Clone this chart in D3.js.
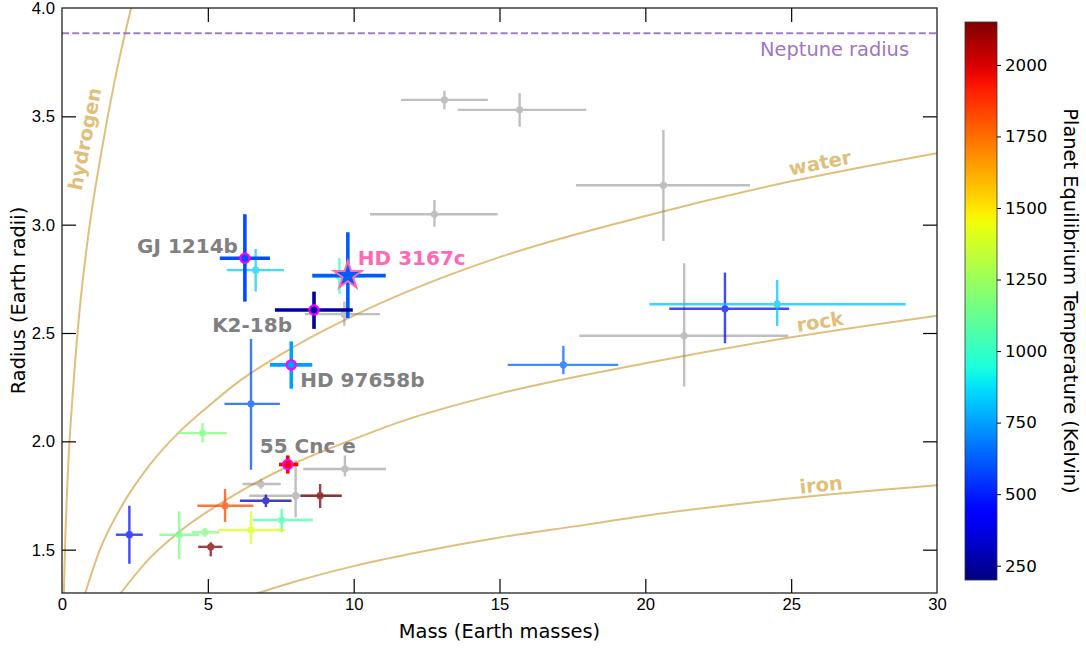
<!DOCTYPE html>
<html><head><meta charset="utf-8">
<script src="https://cdn.jsdelivr.net/npm/d3@7"></script>
<style>body{margin:0;background:#fff}svg{display:block;font-family:"DejaVu Sans",sans-serif}</style>
</head><body><svg id="c" width="1086" height="649"></svg>
<script>
// ---------------- data ----------------
const xTicks = [0, 5, 10, 15, 20, 25, 30];
const yTicks = [1.5, 2.0, 2.5, 3.0, 3.5, 4.0];
const cbTicks = [250, 500, 750, 1000, 1250, 1500, 1750, 2000];
const tempDomain = [200, 2150];
const neptuneRadius = 3.883;

// composition curves (mass, radius)
const hydrogenMass = [0.06, 0.1, 0.2, 0.38, 0.6, 0.9, 1.37, 1.8, 2.37, 2.5];
const hydrogenRadius = [1.28, 1.49, 1.85, 2.24, 2.60, 2.95, 3.35, 3.66, 4.0, 4.07];
const waterMass = [0.75, 1.3, 2, 3, 4, 5, 6, 8, 10, 12, 15, 20, 25, 30];
const waterRadius = [1.28, 1.50, 1.69, 1.89, 2.04, 2.16, 2.27, 2.44, 2.58, 2.70, 2.85, 3.04, 3.20, 3.33];
const rockMass = [1.9, 3, 4, 6, 8, 10, 11.59, 15, 20, 25, 30];
const rockRadius = [1.28, 1.46, 1.58, 1.76, 1.90, 2.01, 2.09, 2.22, 2.36, 2.48, 2.58];
const ironMass = [6.5, 8, 10, 12, 15, 17.76, 20, 25, 30];
const ironRadius = [1.29, 1.353, 1.424, 1.482, 1.556, 1.611, 1.657, 1.737, 1.797];

// highlighted planets
const hlNames = ["GJ 1214b", "HD 3167c", "K2-18b", "HD 97658b", "55 Cnc e"];
const hlMass = [6.27, 9.80, 8.64, 7.86, 7.74];
const hlMassLo = [5.41, 8.58, 7.30, 7.13, 7.44];
const hlMassHi = [7.13, 11.10, 9.97, 8.58, 8.10];
const hlRadius = [2.845, 2.765, 2.606, 2.353, 1.893];
const hlRadiusLo = [2.645, 2.569, 2.519, 2.243, 1.851];
const hlRadiusHi = [3.048, 2.965, 2.691, 2.461, 1.935];
const hlTeq = [590, 620, 255, 750, 1960];

// other planets (null temperature = grey)
const oMass = [13.11, 15.69, 20.62, 12.77, 9.68, 21.33, 9.70, 6.82, 8.01,
  8.85, 6.99, 5.59, 7.53, 6.48, 4.90, 4.02, 5.10, 2.31, 4.82, 6.48, 6.64, 9.51, 17.19, 22.73, 24.52];
const oMassLo = [11.62, 13.57, 17.62, 10.56, 8.33, 17.74, 8.27, 6.19, 6.42,
  8.18, 6.10, 4.64, 6.54, 5.36, 4.45, 3.34, 4.67, 1.85, 3.99, 5.57, 5.65, 8.62, 15.28, 20.82, 20.14];
const oMassHi = [14.60, 17.97, 23.59, 14.94, 10.90, 24.90, 11.11, 7.50, 9.59,
  9.59, 7.87, 6.56, 8.60, 7.65, 5.39, 4.71, 5.50, 2.77, 5.65, 7.47, 7.61, 10.39, 19.07, 24.93, 28.93];
const oRadius = [3.576, 3.530, 3.182, 3.048, 2.587, 2.487, 1.872, 1.803, 1.749,
  1.749, 1.726, 1.703, 1.637, 1.591, 1.580, 1.569, 1.513, 1.569, 2.038, 2.173, 2.790, 2.761, 2.353, 2.612, 2.633];
const oRadiusLo = [3.533, 3.452, 2.925, 2.991, 2.533, 2.253, 1.838, 1.781, 1.649,
  1.692, 1.697, 1.628, 1.581, 1.525, 1.559, 1.457, 1.469, 1.435, 1.995, 1.869, 2.691, 2.681, 2.310, 2.453, 2.533];
const oRadiusHi = [3.617, 3.607, 3.437, 3.114, 2.645, 2.822, 1.935, 1.826, 1.912,
  1.803, 1.754, 1.780, 1.689, 1.677, 1.600, 1.677, 1.534, 1.703, 2.084, 2.473, 2.888, 2.846, 2.441, 2.779, 2.745];
const oTeq = [null, null, null, null, null, null, null, null, null,
  2150, 300, 1830, 1050, 1400, 1180, 1150, 2150, 470, 1180, 600, 850, 1000, 640, 470, 820];

// ---------------- layout / style ----------------
const M = {l: 62, r: 937, t: 8, b: 593};
const curveColor = "#e0bf7c";
const svg = d3.select("#c");
const x = d3.scaleLinear([0, 30], [M.l, M.r]);
const y = d3.scaleLinear([1.3, 4.0], [M.b, M.t]);

// matplotlib "jet"
const jetR = d3.scaleLinear([0, 0.35, 0.66, 0.89, 1], [0, 0, 1, 1, 0.5]).clamp(true);
const jetG = d3.scaleLinear([0, 0.125, 0.375, 0.64, 0.91, 1], [0, 0, 1, 1, 0, 0]).clamp(true);
const jetB = d3.scaleLinear([0, 0.11, 0.34, 0.65, 1], [0.5, 1, 1, 0, 0]).clamp(true);
const tNorm = d3.scaleLinear(tempDomain, [0, 1]).clamp(true);
const jet = T => { const t = tNorm(T); return d3.rgb(jetR(t) * 255, jetG(t) * 255, jetB(t) * 255).formatHex(); };

svg.append("defs").append("clipPath").attr("id", "clip")
  .append("rect").attr("x", M.l).attr("y", M.t).attr("width", M.r - M.l).attr("height", M.b - M.t);
const plot = svg.append("g").attr("clip-path", "url(#clip)");

// curves
const line = d3.line().x(d => x(d[0])).y(d => y(d[1])).curve(d3.curveMonotoneX);
const curves = [
  [hydrogenMass, hydrogenRadius], [waterMass, waterRadius], [rockMass, rockRadius], [ironMass, ironRadius]
];
curves.forEach(([ms, rs]) => {
  plot.append("path").datum(ms.map((v, i) => [v, rs[i]])).attr("d", line)
    .attr("fill", "none").attr("stroke", curveColor).attr("stroke-width", 2);
});

// Neptune line
plot.append("line").attr("x1", M.l).attr("x2", M.r).attr("y1", y(neptuneRadius)).attr("y2", y(neptuneRadius))
  .attr("stroke", "#9467bd").attr("stroke-width", 2).attr("stroke-dasharray", "7,3.2").attr("opacity", 0.85);
svg.append("text").attr("x", 909).attr("y", 56).attr("text-anchor", "end")
  .attr("font-size", 19.4).attr("fill", "#9467bd").attr("opacity", 0.9).text("Neptune radius");

// curve labels
const curveLabels = [
  {t: "hydrogen", x: 85, y: 139, a: -79},
  {t: "water", x: 820, y: 163, a: -11},
  {t: "rock", x: 820, y: 322, a: -9},
  {t: "iron", x: 821, y: 485, a: -6}
];
curveLabels.forEach(c => {
  svg.append("text").attr("transform", `translate(${c.x},${c.y}) rotate(${c.a})`)
    .attr("text-anchor", "middle").attr("dominant-baseline", "central")
    .attr("font-size", 19.4).attr("font-weight", "bold").attr("fill", curveColor).text(c.t);
});

// other planets
const others = oMass.map((v, i) => ({m: v, mlo: oMassLo[i], mhi: oMassHi[i], r: oRadius[i], rlo: oRadiusLo[i], rhi: oRadiusHi[i], T: oTeq[i]}));
const og = plot.append("g");
others.forEach(d => {
  const col = d.T == null ? "#808080" : jet(d.T);
  const op = d.T == null ? 0.5 : 0.75;
  const g = og.append("g").attr("opacity", op);
  g.append("line").attr("x1", x(d.mlo)).attr("x2", x(d.mhi)).attr("y1", y(d.r)).attr("y2", y(d.r)).attr("stroke", col).attr("stroke-width", 2.4);
  g.append("line").attr("x1", x(d.m)).attr("x2", x(d.m)).attr("y1", y(d.rlo)).attr("y2", y(d.rhi)).attr("stroke", col).attr("stroke-width", 2.4);
  g.append("circle").attr("cx", x(d.m)).attr("cy", y(d.r)).attr("r", 3.6).attr("fill", col);
});

// highlighted planets
const labelStyle = {
  "GJ 1214b": {dx: -7, dy: -5, anchor: "end", color: "#808080"},
  "HD 3167c": {dx: 10, dy: -11, anchor: "start", color: "#ff69b4"},
  "K2-18b": {dx: -22, dy: 22, anchor: "end", color: "#808080"},
  "HD 97658b": {dx: 9, dy: 22, anchor: "start", color: "#808080"},
  "55 Cnc e": {dx: -28, dy: -12, anchor: "start", color: "#808080"}
};
const hl = hlNames.map((n, i) => ({n, m: hlMass[i], mlo: hlMassLo[i], mhi: hlMassHi[i], r: hlRadius[i], rlo: hlRadiusLo[i], rhi: hlRadiusHi[i], T: hlTeq[i]}));
const hg = plot.append("g");
hl.forEach(d => {
  const col = jet(d.T);
  hg.append("line").attr("x1", x(d.mlo)).attr("x2", x(d.mhi)).attr("y1", y(d.r)).attr("y2", y(d.r)).attr("stroke", col).attr("stroke-width", 3.6);
  hg.append("line").attr("x1", x(d.m)).attr("x2", x(d.m)).attr("y1", y(d.rlo)).attr("y2", y(d.rhi)).attr("stroke", col).attr("stroke-width", 3.6);
});
hl.forEach(d => {
  const col = jet(d.T);
  if (d.n === "HD 3167c") {
    hg.append("path").attr("d", d3.symbol(d3.symbolStar, 240)())
      .attr("transform", `translate(${x(d.m)},${y(d.r)})`)
      .attr("fill", col).attr("stroke", "#ff69b4").attr("stroke-width", 2);
  } else {
    hg.append("circle").attr("cx", x(d.m)).attr("cy", y(d.r)).attr("r", 4.6)
      .attr("fill", col).attr("stroke", "#ff00ff").attr("stroke-width", 2.2);
  }
});
hl.forEach(d => {
  const s = labelStyle[d.n];
  svg.append("text").attr("x", x(d.m) + s.dx).attr("y", y(d.r) + s.dy).attr("text-anchor", s.anchor)
    .attr("font-size", 20).attr("font-weight", "bold").attr("fill", s.color).text(d.n);
});

// axes
const tickLen = 14;
const ax = svg.append("g").attr("font-family", "DejaVu Sans");
const xb = ax.append("g").attr("transform", `translate(0,${M.b})`)
  .call(d3.axisBottom(x).tickValues(xTicks).tickFormat(d3.format("d")).tickSizeInner(-tickLen).tickSizeOuter(0).tickPadding(5));
const xt = ax.append("g").attr("transform", `translate(0,${M.t})`)
  .call(d3.axisTop(x).tickValues(xTicks).tickFormat("").tickSizeInner(-tickLen).tickSizeOuter(0));
const yl = ax.append("g").attr("transform", `translate(${M.l},0)`)
  .call(d3.axisLeft(y).tickValues(yTicks).tickFormat(d3.format(".1f")).tickSizeInner(-tickLen).tickSizeOuter(0).tickPadding(7));
const yr = ax.append("g").attr("transform", `translate(${M.r},0)`)
  .call(d3.axisRight(y).tickValues(yTicks).tickFormat("").tickSizeInner(-tickLen).tickSizeOuter(0));
[xb, xt, yl, yr].forEach(g => {
  g.select(".domain").remove();
  g.selectAll(".tick line").attr("stroke", "#000").attr("stroke-width", 1.2);
  g.selectAll(".tick text").attr("font-size", 16.7).attr("fill", "#000");
});
// hide tick lines exactly at frame ends
xb.selectAll(".tick").filter(d => d === 0 || d === 30).select("line").remove();
xt.selectAll(".tick").filter(d => d === 0 || d === 30).select("line").remove();
yl.selectAll(".tick").filter(d => d === 4.0).select("line").remove();
yr.selectAll(".tick").filter(d => d === 4.0).select("line").remove();

svg.append("rect").attr("x", M.l).attr("y", M.t).attr("width", M.r - M.l).attr("height", M.b - M.t)
  .attr("fill", "none").attr("stroke", "#222").attr("stroke-width", 1.3);

svg.append("text").attr("x", (M.l + M.r) / 2).attr("y", 638).attr("text-anchor", "middle")
  .attr("font-size", 19.4).text("Mass (Earth masses)");
svg.append("text").attr("transform", `translate(25,${(M.t + M.b) / 2}) rotate(-90)`).attr("text-anchor", "middle")
  .attr("font-size", 19.4).text("Radius (Earth radii)");

// colorbar
const CB = {x: 965, y: 22, w: 32, h: 558};
const cy = d3.scaleLinear(tempDomain, [CB.y + CB.h, CB.y]);
const grad = svg.select("defs").append("linearGradient").attr("id", "jetgrad")
  .attr("x1", 0).attr("y1", 1).attr("x2", 0).attr("y2", 0);
d3.range(0, 1.0001, 0.02).forEach(t => {
  grad.append("stop").attr("offset", t).attr("stop-color", jet(tempDomain[0] + t * (tempDomain[1] - tempDomain[0])));
});
svg.append("rect").attr("x", CB.x).attr("y", CB.y).attr("width", CB.w).attr("height", CB.h)
  .attr("fill", "url(#jetgrad)").attr("stroke", "#333").attr("stroke-width", 0.8);
const cbAx = svg.append("g").attr("transform", `translate(${CB.x + CB.w},0)`)
  .call(d3.axisRight(cy).tickValues(cbTicks).tickFormat(d3.format("d")).tickSizeInner(4).tickSizeOuter(0).tickPadding(4));
cbAx.select(".domain").remove();
cbAx.selectAll(".tick line").attr("stroke", "#000");
cbAx.selectAll(".tick text").attr("font-size", 16.7).attr("font-family", "DejaVu Sans").attr("fill", "#000");
svg.append("text").attr("transform", `translate(1070,${CB.y + CB.h / 2}) rotate(90)`).attr("text-anchor", "middle")
  .attr("dominant-baseline", "central").attr("font-size", 19.4).text("Planet Equilibrium Temperature (Kelvin)");
</script></body></html>
